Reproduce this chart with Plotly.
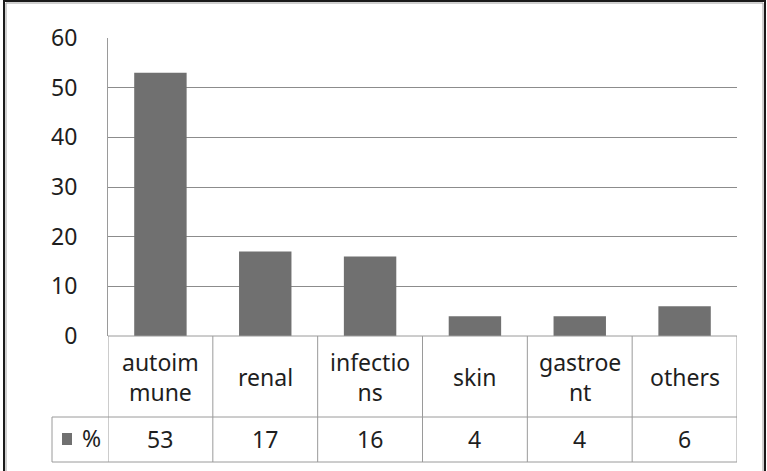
import plotly.graph_objects as go

categories = ["autoim<br>mune", "renal", "infectio<br>ns", "skin", "gastroe<br>nt", "others"]
values = [53, 17, 16, 4, 4, 6]
series_name = "%"
y_ticks = [0, 10, 20, 30, 40, 50, 60]

W, H = 767, 471
FONT = "Noto Sans"
FS = 23
TXT = "#1e1e1e"
LINE = "#9a9a9a"
BAR = "#707070"

def py(p):
    return 1 - p / H

plot_left, plot_right, plot_top, plot_bottom = 108, 737, 38, 336
row1_bottom, row2_bottom, legend_left = 417, 462, 52

x_idx = list(range(len(categories)))

fig = go.Figure()
fig.add_trace(go.Bar(x=x_idx, y=values, marker=dict(color=BAR, line=dict(width=0)),
                     width=0.5, name=series_name, showlegend=False, hoverinfo="skip"))

shapes = []
shapes.append(dict(type="line", xref="paper", yref="paper", x0=plot_left / W, x1=plot_right / W,
                   y0=py(plot_bottom), y1=py(plot_bottom), line=dict(color=LINE, width=1)))
for yy in (row1_bottom, row2_bottom):
    shapes.append(dict(type="line", xref="paper", yref="paper", x0=legend_left / W, x1=plot_right / W,
                       y0=py(yy), y1=py(yy), line=dict(color=LINE, width=1)))
for i in range(len(categories) + 1):
    shapes.append(dict(type="line", xref="x", yref="paper", x0=i - 0.5, x1=i - 0.5,
                       y0=py(row2_bottom), y1=py(plot_bottom), line=dict(color=LINE, width=1)))
shapes.append(dict(type="line", xref="paper", yref="paper", x0=legend_left / W, x1=legend_left / W,
                   y0=py(row2_bottom), y1=py(row1_bottom), line=dict(color=LINE, width=1)))
shapes.append(dict(type="rect", xref="paper", yref="paper", x0=62 / W, x1=72 / W,
                   y0=py(445), y1=py(433), fillcolor=BAR, line=dict(width=0)))
shapes.append(dict(type="rect", xref="paper", yref="paper", x0=4 / W, x1=765 / W,
                   y0=py(480), y1=py(1), line=dict(color="#1a1a1a", width=2)))
shapes.append(dict(type="rect", xref="paper", yref="paper", x0=6 / W, x1=763 / W,
                   y0=py(480), y1=py(3), line=dict(color="#a0a0a0", width=1)))

annotations = []
for i, (c, v) in enumerate(zip(categories, values)):
    annotations.append(dict(x=i, y=py(377), xref="x", yref="paper", text=c, showarrow=False,
                            font=dict(family=FONT, size=FS, color=TXT), align="center", yanchor="middle"))
    annotations.append(dict(x=i, y=py(439), xref="x", yref="paper", text=str(v), showarrow=False,
                            font=dict(family=FONT, size=FS, color=TXT), yanchor="middle"))
annotations.append(dict(x=80 / W, y=py(438), xref="paper", yref="paper", text=series_name,
                        showarrow=False, xanchor="left", yanchor="middle",
                        font=dict(family=FONT, size=FS, color=TXT)))

fig.update_layout(
    width=W, height=H,
    margin=dict(l=0, r=0, t=0, b=0, pad=0, autoexpand=False),
    paper_bgcolor="white", plot_bgcolor="white",
    shapes=shapes, annotations=annotations,
    bargap=0.5,
    xaxis=dict(domain=[plot_left / W, plot_right / W], range=[-0.5, len(categories) - 0.5],
               showticklabels=False, showgrid=False, zeroline=False, showline=False, ticks="",
               automargin=False),
    yaxis=dict(domain=[py(plot_bottom), py(plot_top)], range=[0, 60], tickvals=y_ticks,
               showgrid=True, gridcolor="#8c8c8c", gridwidth=1, zeroline=False,
               showline=True, linecolor=LINE, linewidth=1, ticks="",
               ticklabelstandoff=25, automargin=False,
               tickfont=dict(family=FONT, size=FS, color=TXT)),
)

fig.write_html("out.html", config={"displayModeBar": False},
               post_script="document.body.style.margin='0';")
